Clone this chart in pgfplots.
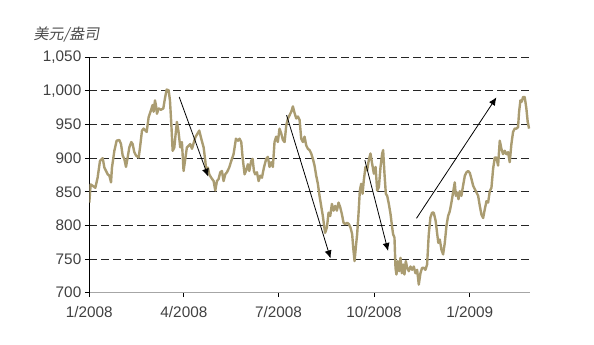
\documentclass[border=0pt]{standalone}
\usepackage{pgfplots}
\pgfplotsset{compat=1.18}
\usepackage{fontspec}
\setmainfont{Liberation Sans}
\newfontfamily\cjk[FakeSlant=0.18]{Noto Sans CJK SC}
\usetikzlibrary{arrows.meta}
\definecolor{gold}{RGB}{170,156,113}
\begin{document}
\begin{tikzpicture}
\path[use as bounding box] (-89.3pt,-52.3pt) rectangle (504.7pt,292.7pt);
\begin{axis}[at={(0pt,0pt)}, anchor=south west, scale only axis,
  width=440.7pt, height=235.4pt,
  xmin=0, xmax=424, ymin=700, ymax=1050,
  axis x line*=bottom, axis y line*=left,
  x axis line style={black!35, line width=1pt},
  y axis line style={black, line width=1.2pt},
  xtick={0,91,182,274,366},
  xticklabels={1/2008,4/2008,7/2008,10/2008,1/2009},
  ytick={750,800,...,1050},
  extra y ticks={700}, extra y tick style={grid=none},
  ymajorgrids,
  major grid style={black!85, line width=0.9pt, dash pattern=on 8pt off 4pt},
  tick align=outside, major tick length=4.5pt,
  tick style={black, line width=0.9pt},
  ticklabel style={font=\fontsize{15.3}{18}\selectfont, text=black!75},
  xticklabel style={yshift=-6pt},
  /pgf/number format/assume math mode=true,
  /pgf/number format/1000 sep={,},
]
\addplot[gold, line width=2.4pt, line join=round] table[x=d, y=v] {
d v
0 834
1.3 861
3.2 859
5.8 856
8.0 871
10.3 896
12.9 900
14.5 886
16.1 881
17.7 876
19.3 874
20.9 864
21.8 886
24.1 911
26.3 926
28.9 927
30.5 921
32.1 904
33.7 899
35.3 887
36.9 901
38.5 916
40.4 924
41.7 921
43.3 909
44.9 904
47.5 901
48.8 916
50.7 941
52.3 944
53.9 941
55.2 939
57.1 961
59.3 971
60.9 979
61.9 969
63.2 986
64.1 979
65.1 966
66.7 974
68.9 972
71.2 974
72.8 989
74.4 1002
76.3 1001
77.6 986
78.9 951
80.2 911
81.8 916
83.0 935
84.3 954
85.8 940
87.5 916
89.1 924
90.7 881
93.9 916
97.1 921
98.8 914
102.0 931
105.8 941
107.7 929
110.0 916
111.6 896
112.5 881
114.1 886
115.4 876
117.3 871
119.6 866
121.2 852
122.8 866
124.4 869
126.0 879
127.6 881
129.2 866
130.8 876
132.4 879
134.6 886
136.6 896
138.8 906
141.1 929
143.0 926
144.6 929
146.2 924
147.5 901
149.4 876
150.7 881
152.6 891
153.9 881
155.8 896
157.1 899
158.4 881
159.6 876
161.3 879
162.9 866
164.5 874
166.1 871
168.0 886
170.2 899
171.8 902
173.4 887
175.0 894
176.6 887
178.2 924
179.8 932
181.4 924
183.0 944
184.6 937
186.3 927
187.9 924
189.5 949
191.1 959
192.7 964
194.3 969
195.9 977
197.5 967
199.1 959
200.7 962
202.3 957
203.9 929
205.5 924
207.1 932
208.7 919
210.3 914
211.9 912
213.5 907
215.1 899
216.7 889
218.3 874
219.9 862
221.5 844
223.1 829
224.7 814
225.7 802
226.9 789
228.6 797
230.2 819
231.8 814
233.4 832
235.0 822
236.6 829
238.2 822
239.8 834
241.4 827
243.0 817
244.6 804
246.2 802
248.1 804
249.7 802
251.3 797
252.9 787
253.9 767
255.2 747
256.4 767
257.7 787
259.0 817
260.3 852
261.6 862
262.9 847
264.1 867
265.7 887
267.3 882
268.9 897
270.5 907
272.1 892
273.8 877
275.4 887
277.0 852
278.6 857
280.2 887
281.8 907
282.7 912
284.0 877
285.3 847
286.6 844
288.2 832
289.8 817
291.4 797
292.3 787
293.6 782
294.6 737
295.5 727
296.8 747
298.1 732
299.4 752
300.7 729
302.0 742
303.2 727
304.5 747
305.8 737
307.4 732
309.0 739
310.6 734
312.2 739
313.8 729
315.4 734
317.0 712
318.6 729
320.2 737
321.8 737
323.4 734
325.0 742
326.6 787
328.2 812
329.8 819
331.4 819
333.2 807
334.6 789
335.8 774
337.2 779
338.8 764
340.4 757
342.0 774
343.6 799
345.2 814
346.8 821
348.4 834
350.0 849
351.6 864
352.6 844
353.9 849
355.2 839
356.4 851
358.0 844
359.6 859
361.3 874
362.9 879
364.5 881
366.1 878
367.7 869
369.3 859
370.9 854
372.5 849
374.1 844
375.7 829
377.3 816
378.9 811
380.5 824
382.1 836
383.7 834
385.3 851
386.9 856
388.5 884
390.1 901
391.7 901
393.3 889
394.9 926
396.5 914
398.1 906
399.7 911
401.3 906
402.9 909
404.5 894
406.1 921
407.7 939
409.3 944
410.9 944
412.5 946
413.5 969
414.8 986
416.1 984
417.3 991
418.9 991
420.5 974
421.8 954
423.1 944
};
\draw[-{Latex[length=8pt,width=7pt]}, line width=0.8pt] (axis cs:86.5,991) -- (axis cs:114.4,872.5);
\draw[-{Latex[length=8pt,width=7pt]}, line width=0.8pt] (axis cs:189.8,964) -- (axis cs:232.1,751);
\draw[-{Latex[length=8pt,width=7pt]}, line width=0.8pt] (axis cs:265.1,897) -- (axis cs:287.5,762);
\draw[-{Latex[length=8pt,width=7pt]}, line width=0.8pt] (axis cs:314.8,810.6) -- (axis cs:391.7,990.5);
\end{axis}
\node[font=\cjk\fontsize{15}{18}\selectfont, text=black!70] at (-22.8pt,257.7pt) {美元/盎司};
\end{tikzpicture}
\end{document}
